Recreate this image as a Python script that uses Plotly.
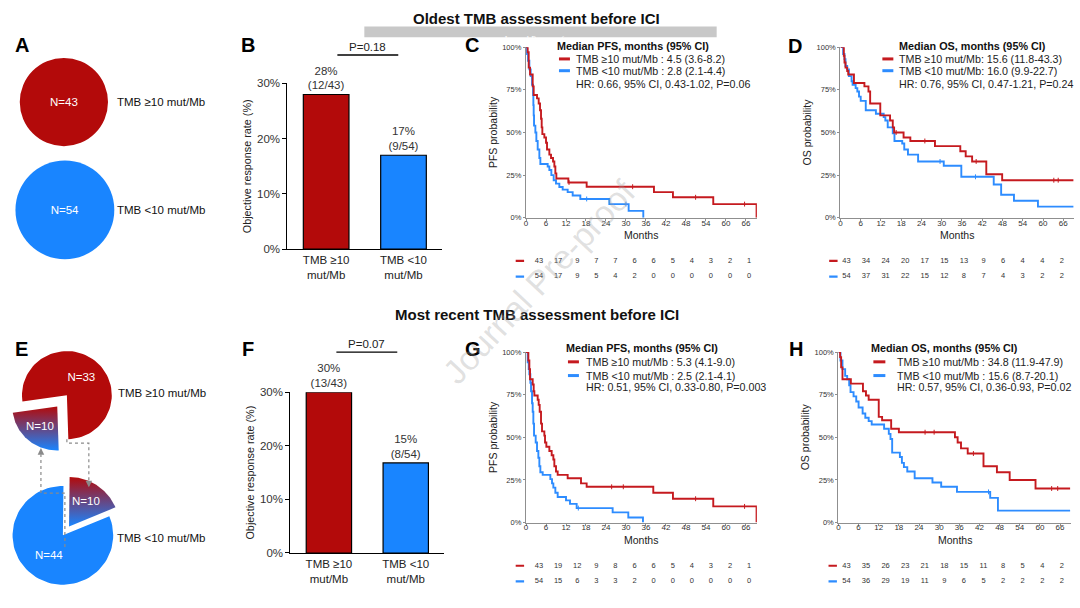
import numpy as np
import plotly.graph_objects as go

W, H = 1080, 608
def fx(p): return p / W
def fy(p): return 1 - p / H

RED = "#B30A0A"
BLUE = "#1985FF"
KRED = "#C51A1F"
KBLUE = "#2D8CFF"
FONT = "Liberation Sans, Arial, sans-serif"

# ---------------- data ----------------
groups = ["TMB ≥10 mut/Mb", "TMB <10 mut/Mb"]
bar_categories = ["TMB ≥10<br>mut/Mb", "TMB <10<br>mut/Mb"]

# Panel A: oldest assessment
n_oldest = [43, 54]
# Panel E: most recent assessment
high_stayed, low_to_high = 33, 10
low_stayed, high_to_low = 44, 10

# Panels B / F
orr_oldest = [28, 17]
orr_oldest_text = ["28%<br>(12/43)", "17%<br>(9/54)"]
p_oldest = "P=0.18"
orr_recent = [30, 16.8]
orr_recent_text = ["30%<br>(13/43)", "15%<br>(8/54)"]
p_recent = "P=0.07"
orr_ticks = [0, 10, 20, 30]

# Kaplan-Meier axes
km_ticks = list(range(0, 67, 6))
surv_ticks = [0, 25, 50, 75, 100]

# C: PFS, oldest
c_red_t = [0.5, 0.8, 1.2, 2.0, 2.3, 3.3, 3.8, 4.2, 4.5, 4.7, 4.9, 5.5, 6.0, 6.3, 7.0, 7.5, 8.1, 8.5, 8.8, 9.1, 12.7, 18.2, 38.4, 44.1, 56.2, 69.2]
c_red_s = [97, 88, 84, 77, 72, 70, 67, 63, 58, 53, 49, 47, 44, 40, 37, 35, 33, 30, 26, 23, 20.7, 18.2, 15, 12, 8, 0]
c_red_cens = [12.9, 32.0, 50.9, 65.6]
c_blue_t = [0.3, 0.6, 1.0, 1.4, 1.8, 2.1, 2.2, 2.3, 2.4, 2.8, 3.1, 3.5, 4.0, 4.3, 6.5, 7.0, 7.6, 8.3, 9.0, 10.0, 11.0, 12.5, 14.0, 16.3, 25.0, 30.8, 35.2]
c_blue_s = [96, 92, 87, 83, 78, 72, 66, 60, 54, 50, 45, 40, 35, 31.5, 30, 28, 25, 22, 20, 18, 16.5, 15, 13, 11, 8, 4, 0]
c_blue_cens = [18.2, 30.0]
c_red_risk = [43, 17, 9, 7, 7, 6, 6, 5, 4, 3, 2, 1]
c_blue_risk = [54, 17, 9, 5, 4, 2, 0, 0, 0, 0, 0, 0]

# D: OS, oldest
d_red_t = [1.0, 1.2, 1.5, 2.0, 2.3, 4.0, 7.1, 8.3, 8.8, 11.8, 14.7, 15.5, 15.9, 18.7, 20.7, 28.0, 35.5, 37.1, 39.0, 43.2, 47.9, 69.0]
d_red_s = [95, 91, 88, 86, 84, 79, 77, 74, 67, 60, 57, 53, 50, 47, 45, 42, 39, 36, 33, 25.5, 22, 22]
d_red_cens = [16.5, 25.0, 40.2, 63.2, 64.5]
d_blue_t = [0.8, 1.2, 1.5, 2.0, 2.5, 3.3, 3.6, 4.5, 5.0, 5.5, 6.0, 7.5, 10.5, 12.8, 13.3, 14.0, 15.5, 16.0, 18.3, 18.9, 20.0, 23.0, 30.6, 35.8, 45.4, 47.6, 51.4, 58.5, 69.0]
d_blue_s = [96, 93, 89, 87, 83, 80, 78, 76, 74, 71, 68.5, 63, 61, 59, 57, 53, 49.5, 45, 43.5, 40, 37, 33, 30.5, 24, 19.5, 13.5, 10, 6.5, 6.5]
d_blue_cens = [29.5, 40.0]
d_red_risk = [43, 34, 24, 20, 17, 15, 13, 9, 6, 4, 4, 2]
d_blue_risk = [54, 37, 31, 22, 15, 12, 8, 7, 4, 3, 2, 2]

# G: PFS, most recent
g_red_t = [0.7, 1.0, 1.2, 2.0, 2.3, 2.5, 3.5, 3.8, 4.1, 4.5, 4.8, 5.5, 5.7, 6.1, 7.0, 7.7, 8.2, 8.5, 9.0, 9.5, 12.5, 16.5, 18.2, 38.2, 44.1, 56.2, 69.2]
g_red_s = [95, 90, 84, 81, 77, 74.5, 72, 69, 65, 58, 53.5, 51, 47, 44.5, 42, 39.5, 37, 33, 30, 28, 26, 23, 21, 17.5, 14, 9.5, 0]
g_red_cens = [25.7, 29.2, 50.9, 65.6]
g_blue_t = [0.5, 0.8, 1.0, 1.3, 1.5, 1.8, 2.0, 2.2, 2.4, 2.9, 3.3, 3.7, 4.0, 4.3, 5.0, 7.3, 7.8, 8.2, 8.8, 9.5, 12.0, 13.2, 15.2, 26.0, 30.7, 35.1]
g_blue_s = [94, 90, 87, 82, 77, 70, 65, 58, 51, 47, 42, 38, 33, 29.5, 28, 25.5, 23, 20.5, 17.5, 15, 13, 11, 8.5, 6, 3, 0]
g_blue_cens = [15.7]
g_red_risk = [43, 19, 12, 9, 8, 6, 6, 5, 4, 3, 2, 1]
g_blue_risk = [54, 15, 6, 3, 3, 2, 0, 0, 0, 0, 0, 0]

# H: OS, most recent
h_red_t = [0.5, 0.8, 1.2, 3.7, 7.3, 8.2, 9.0, 12.0, 13.0, 15.7, 18.0, 34.7, 35.5, 36.5, 38.5, 43.2, 47.2, 51.0, 58.7, 69.0]
h_red_s = [97, 91, 84, 81.5, 77, 74.5, 72, 62, 60, 55, 53, 50, 47, 43.5, 40.5, 33, 29.5, 25, 20, 20]
h_red_cens = [25.8, 28.5, 40.2, 63.5, 65.3]
h_blue_t = [0.6, 1.2, 2.0, 2.6, 3.2, 3.6, 4.5, 5.3, 6.0, 7.2, 8.0, 9.0, 9.9, 13.6, 15.0, 15.5, 16.0, 18.3, 18.9, 19.5, 20.5, 22.7, 28.0, 30.6, 35.3, 45.2, 47.5, 69.0]
h_blue_s = [95, 90, 86, 84, 80.5, 76.5, 74, 71, 67.5, 64, 61.5, 59.5, 57.5, 55, 52, 49, 41, 38.5, 35, 32.5, 30, 26, 23.5, 21, 18, 14.5, 7, 7]
h_blue_cens = [44.7]
h_red_risk = [43, 35, 26, 23, 21, 18, 15, 11, 8, 5, 4, 2]
h_blue_risk = [54, 36, 29, 19, 11, 9, 6, 5, 2, 2, 2, 2]

legend_c = ["Median PFS, months (95% CI)", "TMB ≥10 mut/Mb : 4.5 (3.6-8.2)", "TMB <10 mut/Mb : 2.8 (2.1-4.4)", "HR: 0.66, 95% CI, 0.43-1.02, P=0.06"]
legend_d = ["Median OS, months (95% CI)", "TMB ≥10 mut/Mb: 15.6 (11.8-43.3)", "TMB <10 mut/Mb: 16.0 (9.9-22.7)", "HR: 0.76, 95% CI, 0.47-1.21, P=0.24"]
legend_g = ["Median PFS, months (95% CI)", "TMB ≥10 mut/Mb : 5.3 (4.1-9.0)", "TMB <10 mut/Mb : 2.5 (2.1-4.1)", "HR: 0.51, 95% CI, 0.33-0.80, P=0.003"]
legend_h = ["Median OS, months (95% CI)", "TMB ≥10 mut/Mb : 34.8 (11.9-47.9)", "TMB <10 mut/Mb : 15.6 (8.7-20.1)", "HR: 0.57, 95% CI, 0.36-0.93, P=0.02"]

titles = ["Oldest TMB assessment before ICI", "Most recent TMB assessment before ICI"]

# ---------------- figure ----------------
fig = go.Figure()
layout = {}
annotations = []
shapes = []

def names(i):
    return ("xaxis" if i == 1 else f"xaxis{i}", "yaxis" if i == 1 else f"yaxis{i}")
def refs(i):
    return ("x" if i == 1 else f"x{i}", "y" if i == 1 else f"y{i}")

def add_axes(i, xpx, ypx, xcfg, ycfg):
    xn, yn = names(i)
    xr, yr = refs(i)
    layout[xn] = dict(domain=[fx(xpx[0]), fx(xpx[1])], anchor=yr, fixedrange=True, **xcfg)
    layout[yn] = dict(domain=[fy(ypx[1]), fy(ypx[0])], anchor=xr, fixedrange=True, **ycfg)

def text_ann(x, y, txt, size=11, color="#222", xanchor="center", bold=False, **kw):
    t = f"<b>{txt}</b>" if bold else txt
    annotations.append(dict(x=fx(x), y=fy(y), xref="paper", yref="paper", text=t, showarrow=False,
                            xanchor=xanchor, yanchor="middle", font=dict(size=size, color=color, family=FONT), **kw))

def step_value(times, surv, t):
    idx = np.searchsorted(np.array(times), t, side="right") - 1
    return 100.0 if idx < 0 else surv[idx]

# --- KM panels ---
km_panels = [
    dict(ax=1, tab=5, xpx=(525, 756.3), ypx=(42, 216), ylab="PFS probability", months_y=234,
         red=(c_red_t, c_red_s, c_red_cens), blue=(c_blue_t, c_blue_s, c_blue_cens),
         risk=(c_red_risk, c_blue_risk), tabx=(505, 765), t0=538, slope=3.19, dash_t=-6.0, tyx=(252, 284),
         legend=legend_c, leg=dict(title_x=554, dash=(558, 569), text_x=573, ys=(41, 54, 66, 80))),
    dict(ax=2, tab=6, xpx=(840, 1074.4), ypx=(42, 216), ylab="OS probability", months_y=234,
         red=(d_red_t, d_red_s, d_red_cens), blue=(d_blue_t, d_blue_s, d_blue_cens),
         risk=(d_red_risk, d_blue_risk), tabx=(820, 1078), t0=846, slope=3.27, dash_t=-4.0, tyx=(252, 284),
         legend=legend_d, leg=dict(title_x=897, dash=(882, 893), text_x=897, ys=(41, 54, 66, 80))),
    dict(ax=3, tab=7, xpx=(525, 756.3), ypx=(353, 527), ylab="PFS probability", months_y=545,
         red=(g_red_t, g_red_s, g_red_cens), blue=(g_blue_t, g_blue_s, g_blue_cens),
         risk=(g_red_risk, g_blue_risk), tabx=(505, 765), t0=538, slope=3.19, dash_t=-6.0, tyx=(563, 595),
         legend=legend_g, leg=dict(title_x=563, dash=(567, 578), text_x=583, ys=(349, 363, 377, 389))),
    dict(ax=4, tab=8, xpx=(838, 1071.1), ypx=(353, 527), ylab="OS probability", months_y=545,
         red=(h_red_t, h_red_s, h_red_cens), blue=(h_blue_t, h_blue_s, h_blue_cens),
         risk=(h_red_risk, h_blue_risk), tabx=(820, 1078), t0=846, slope=3.27, dash_t=-4.2, tyx=(563, 595),
         legend=legend_h, leg=dict(title_x=869, dash=(873, 885), text_x=895, ys=(349, 363, 377, 389))),
]

AXC = "#8f8f8f"
for p in km_panels:
    xcfg = dict(range=[0, 69.3], tickmode="array", tickvals=km_ticks, ticks="outside", ticklen=2, tickwidth=1,
                tickcolor=AXC, showline=True, linecolor=AXC, linewidth=1.4, showgrid=False, zeroline=False,
                ticklabelstandoff=-5, tickfont=dict(size=8, color="#333", family=FONT))
    ycfg = dict(range=[0, 100], tickmode="array", tickvals=surv_ticks, ticktext=[f"{v}%" for v in surv_ticks],
                ticks="outside", ticklen=2, tickwidth=1, tickcolor=AXC, showline=True, linecolor=AXC, linewidth=1.4,
                showgrid=False, zeroline=False, tickfont=dict(size=7.5, color="#333", family=FONT),
                title=dict(text=p["ylab"], font=dict(size=10.5, color="#222", family=FONT), standoff=2))
    add_axes(p["ax"], p["xpx"], p["ypx"], xcfg, ycfg)
    text_ann((p["xpx"][0] + p["xpx"][1]) / 2, p["months_y"], "Months", size=10.5, color="#222")
    xr, yr = refs(p["ax"])
    for (tt, ss, cens), col in ((p["blue"], KBLUE), (p["red"], KRED)):
        fig.add_trace(go.Scatter(x=[0] + tt, y=[100] + ss, mode="lines", line=dict(color=col, width=1.9, shape="hv"),
                                 xaxis=xr, yaxis=yr, hoverinfo="skip", showlegend=False))
        fig.add_trace(go.Scatter(x=cens, y=[step_value(tt, ss, c) for c in cens], mode="markers",
                                 marker=dict(symbol="line-ns", size=3.5, line=dict(width=1, color=col)),
                                 xaxis=xr, yaxis=yr, hoverinfo="skip", showlegend=False))
    # risk table
    lo, hi = p["tabx"]
    rng = [(lo - p["t0"]) / p["slope"], (hi - p["t0"]) / p["slope"]]
    add_axes(p["tab"], p["tabx"], p["tyx"], dict(range=rng, visible=False), dict(range=[0, 2], visible=False))
    txr, tyr = refs(p["tab"])
    for row, vals, col in ((1.5, p["risk"][0], KRED), (0.5, p["risk"][1], KBLUE)):
        fig.add_trace(go.Scatter(x=km_ticks, y=[row] * len(km_ticks), text=[str(v) for v in vals], mode="text",
                                 textfont=dict(size=7.5, color="#333", family=FONT), xaxis=txr, yaxis=tyr,
                                 hoverinfo="skip", showlegend=False))
        fig.add_trace(go.Scatter(x=[p["dash_t"]], y=[row], mode="markers",
                                 marker=dict(symbol="line-ew", size=6, line=dict(width=2.2, color=col)),
                                 xaxis=txr, yaxis=tyr, hoverinfo="skip", showlegend=False))
    # legend block
    lg = p["leg"]
    text_ann(lg["title_x"], lg["ys"][0], p["legend"][0], size=10.8, color="#111", xanchor="left", bold=True)
    for k, col in ((1, KRED), (2, KBLUE)):
        shapes.append(dict(type="line", xref="paper", yref="paper", x0=fx(lg["dash"][0]), x1=fx(lg["dash"][1]),
                           y0=fy(lg["ys"][k]), y1=fy(lg["ys"][k]), line=dict(color=col, width=3)))
        text_ann(lg["text_x"], lg["ys"][k], p["legend"][k], size=10.7, color="#222", xanchor="left")
    text_ann(lg["text_x"], lg["ys"][3], p["legend"][3], size=10.7, color="#222", xanchor="left")

# --- Bar panels B and F ---
bar_panels = [
    dict(ax=9, xpx=(286, 441), ypx=(79, 248), vals=orr_oldest, txt=orr_oldest_text, p=p_oldest,
         pline=(336, 397, 50), ptext=(366, 42)),
    dict(ax=10, xpx=(289, 443), ypx=(394, 558), vals=orr_recent, txt=orr_recent_text, p=p_recent,
         pline=(335, 396, 353), ptext=(365, 345)),
]
for b in bar_panels:
    xcfg = dict(type="category", range=[-0.5, 1.5], showline=True, linecolor="black", linewidth=1.3, ticks="",
                showgrid=False, zeroline=False, tickfont=dict(size=11.5, color="#222", family=FONT))
    ycfg = dict(range=[0, 30], tickmode="array", tickvals=orr_ticks, ticktext=[f"{v}%" for v in orr_ticks],
                ticks="outside", ticklen=4, tickcolor="black", showline=True, linecolor="black", linewidth=1.3,
                showgrid=False, zeroline=False, tickfont=dict(size=11.5, color="#333", family=FONT),
                title=dict(text="Objective response rate (%)", font=dict(size=10.8, color="#222", family=FONT), standoff=3))
    add_axes(b["ax"], b["xpx"], b["ypx"], xcfg, ycfg)
    xr, yr = refs(b["ax"])
    fig.add_trace(go.Bar(x=bar_categories, y=b["vals"], width=0.59,
                         marker=dict(color=[RED, BLUE], line=dict(color="black", width=1.2)),
                         text=b["txt"], textposition="outside", textfont=dict(size=11.5, color="#333", family=FONT),
                         cliponaxis=False, constraintext="none", xaxis=xr, yaxis=yr, hoverinfo="skip", showlegend=False))
    x0, x1, yl = b["pline"]
    shapes.append(dict(type="line", xref="paper", yref="paper", x0=fx(x0), x1=fx(x1), y0=fy(yl), y1=fy(yl),
                       line=dict(color="black", width=1.3)))
    text_ann(b["ptext"][0], b["ptext"][1], b["p"], size=11.5, color="#222")

# --- Panel A pies ---
R0 = 45.0
pie_centers = [(62, 98), (63, 208)]
for n, col, (cx, cy), g in zip(n_oldest, [RED, BLUE], pie_centers, groups):
    r = R0 * np.sqrt(n / n_oldest[0])
    fig.add_trace(go.Pie(values=[n], labels=[g], text=[f"N={n}"], textinfo="text", textposition="inside",
                         insidetextfont=dict(color="white", size=11.5, family=FONT),
                         marker=dict(colors=[col], line=dict(width=0)), sort=False, hoverinfo="skip",
                         showlegend=False, domain=dict(x=[fx(cx - r), fx(cx + r)], y=[fy(cy + r), fy(cy - r)])))
    text_ann(113, cy, g, size=11.5, color="#111", xanchor="left")

# --- Panel E exploded pies (drawn on a hidden 1:1 axis) ---
add_axes(11, (0, 125), (340, 600), dict(range=[0, 125], visible=False), dict(range=[0, 260], visible=False))
ex, ey = refs(11)

def sector(cx, cy, r, a0, a1, n=80):
    a = np.radians(np.linspace(a0, a1, n))
    xs = np.concatenate([[cx], cx + r * np.cos(a), [cx]])
    ys = np.concatenate([[cy], cy + r * np.sin(a), [cy]])
    return xs, ys

grad = [[0, BLUE], [1, RED]]
e_specs = [
    dict(c=(65, 203), main=high_stayed, moved=low_to_high, bis=230, pull=15, col=RED),
    dict(c=(61, 60), main=low_stayed, moved=high_to_low, bis=56, pull=11, col=BLUE),
]
for s in e_specs:
    total = s["main"] + s["moved"]
    r = R0 * np.sqrt(total / n_oldest[0])
    span = s["moved"] / total * 360
    a0, a1 = s["bis"] - span / 2, s["bis"] + span / 2
    cx, cy = s["c"]
    xs, ys = sector(cx, cy, r, a1, a0 + 360)
    fig.add_trace(go.Scatter(x=xs, y=ys, fill="toself", fillcolor=s["col"], mode="lines", line=dict(width=0),
                             xaxis=ex, yaxis=ey, hoverinfo="skip", showlegend=False))
    mb = np.radians((a1 + a0 + 360) / 2)
    fig.add_trace(go.Scatter(x=[cx + 0.5 * r * np.cos(mb)], y=[cy + 0.5 * r * np.sin(mb)], text=[f"N={s['main']}"],
                             mode="text", textfont=dict(color="white", size=11.5, family=FONT),
                             xaxis=ex, yaxis=ey, hoverinfo="skip", showlegend=False))
    b = np.radians(s["bis"])
    wx, wy = cx + s["pull"] * np.cos(b), cy + s["pull"] * np.sin(b)
    xs, ys = sector(wx, wy, r, a0, a1)
    fig.add_trace(go.Scatter(x=xs, y=ys, fill="toself", fillgradient=dict(type="vertical", colorscale=grad),
                             mode="lines", line=dict(width=0), xaxis=ex, yaxis=ey, hoverinfo="skip", showlegend=False))
    fig.add_trace(go.Scatter(x=[wx + 0.6 * r * np.cos(b)], y=[wy + 0.6 * r * np.sin(b)], text=[f"N={s['moved']}"],
                             mode="text", textfont=dict(color="white", size=11.5, family=FONT),
                             xaxis=ex, yaxis=ey, hoverinfo="skip", showlegend=False))

text_ann(114, 395, groups[0], size=11.5, color="#111", xanchor="left")
text_ann(113, 543, groups[1], size=11.5, color="#111", xanchor="left")

ARC = "#8a8a8a"
shapes.append(dict(type="path", xref=ex, yref=ey, path="M 65,158 L 65,154 L 87,154 L 87,116",
                   line=dict(color=ARC, width=1.2, dash="dot")))
shapes.append(dict(type="path", xref=ex, yref=ey, path="M 63,48 L 63,103 L 39,103 L 39,142",
                   line=dict(color=ARC, width=1.2, dash="dot")))
for tip, tail in (((87, 109), (87, 117)), ((39, 149), (39, 141))):
    annotations.append(dict(x=tip[0], y=tip[1], ax=tail[0], ay=tail[1], xref=ex, yref=ey, axref=ex, ayref=ey,
                            text="", showarrow=True, arrowhead=2, arrowsize=1.1, arrowwidth=1.2, arrowcolor=ARC))

# --- titles, panel letters, watermark ---
text_ann(535, 13, titles[0], size=15, color="#111", bold=True)
text_ann(535.5, 315, titles[1], size=15, color="#111", bold=True)
shapes.append(dict(type="rect", xref="paper", yref="paper", x0=fx(363), x1=fx(716), y0=fy(32), y1=fy(21),
                   fillcolor="#C8C8C8", line=dict(width=0), layer="below"))
annotations.append(dict(x=fx(533), y=fy(26.5), xref="paper", yref="paper", text="Journal Pre-proof", showarrow=False,
                        font=dict(size=8.5, color="#FFFFFF", family="Liberation Serif, serif")))
for letter, (lx, ly) in zip("ABCDEFGH", [(20, 40), (246, 40), (471, 40), (794, 41), (20, 350), (246, 350), (472, 350), (795, 350)]):
    text_ann(lx, ly, letter, size=20, color="#000", bold=True)
annotations.append(dict(x=fx(538), y=fy(282), xref="paper", yref="paper", text="Journal Pre-proof", showarrow=False,
                        textangle=-47, font=dict(size=34, color="rgba(160,160,160,0.33)", family=FONT)))

layout.update(dict(width=W, height=H, margin=dict(l=0, r=0, t=0, b=0), paper_bgcolor="white", plot_bgcolor="white",
                   font=dict(family=FONT), annotations=annotations, shapes=shapes, showlegend=False))
fig.update_layout(**layout)

fig.write_html("out.html", config={"displayModeBar": False}, post_script="document.body.style.margin='0';")
